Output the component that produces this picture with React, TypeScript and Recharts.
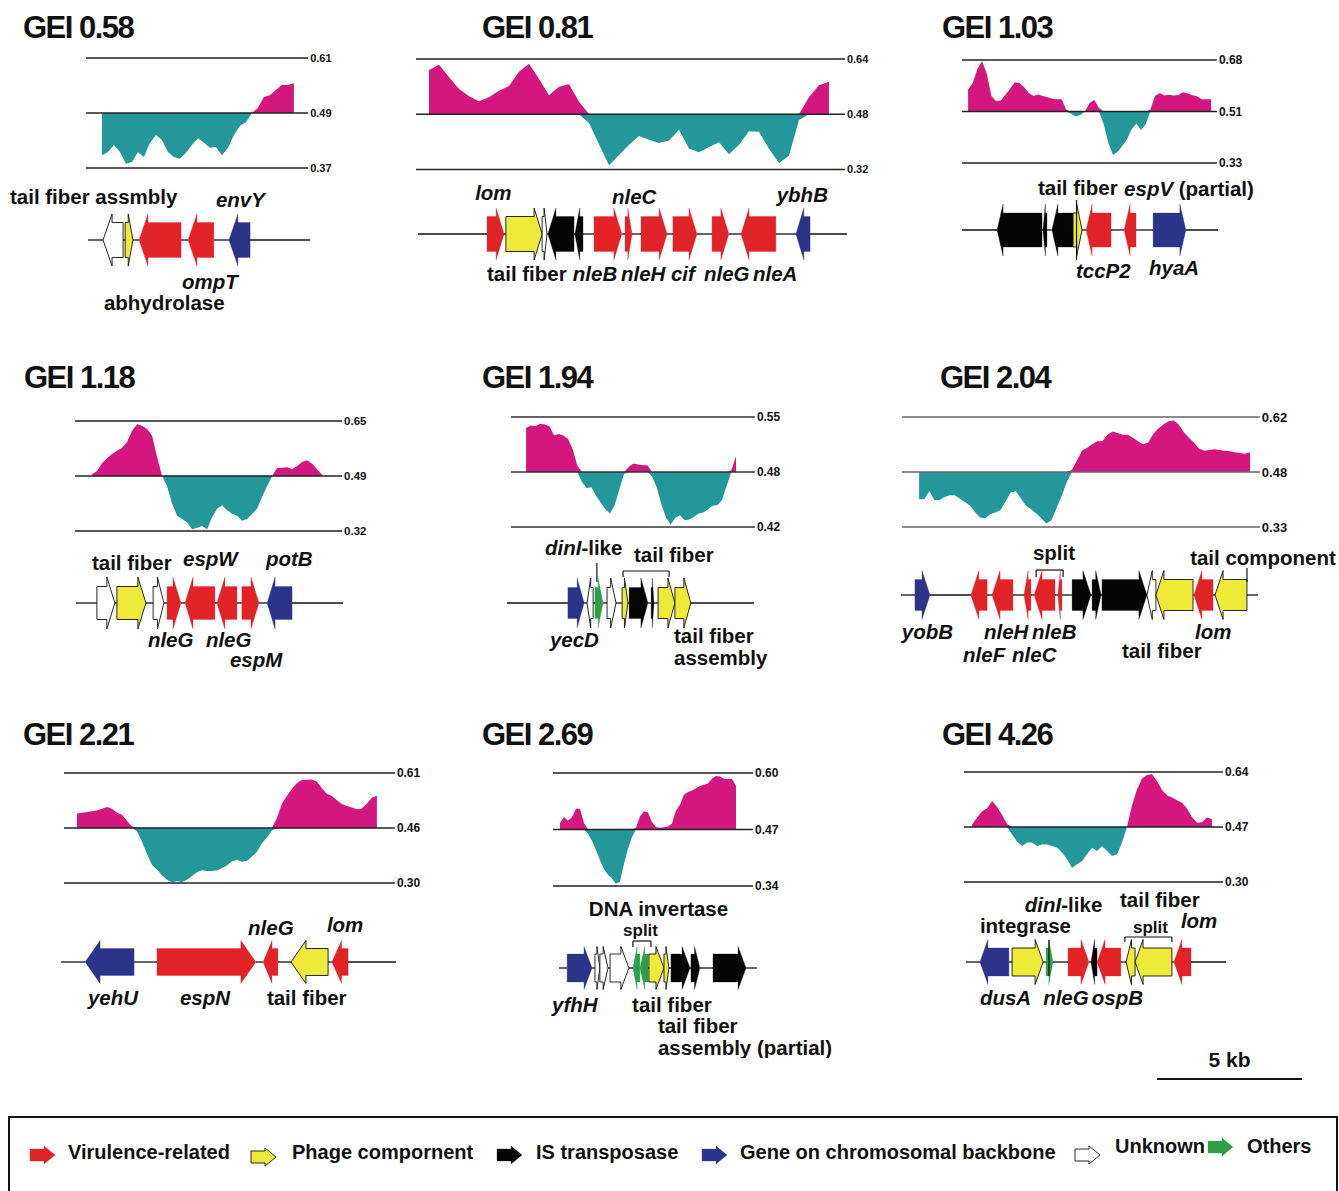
import React from 'react';
import { AreaChart, Area, XAxis, YAxis, ReferenceLine, ComposedChart, ReferenceArea, ReferenceDot } from 'recharts';

const FONT = '"Liberation Sans", Arial, Helvetica, sans-serif';
const PX_PER_KB = 29;
const PINK = '#D3177E';
const TEAL = '#23979A';
const GENE_COLORS: Record<string, string> = {
  vir: '#E12328', phage: '#EEEA3A', is: '#050505', backbone: '#2C3388', unknown: '#FFFFFF', other: '#2E9F48',
};

// ---------------- GC content profiles (GC fraction, evenly spaced over the window) ----------------
const gei058Gc = [0.398,0.405,0.420,0.405,0.379,0.383,0.405,0.394,0.425,0.442,0.431,0.405,0.394,0.390,0.403,0.420,0.435,0.425,0.414,0.416,0.398,0.414,0.442,0.462,0.470,0.490,0.501,0.525,0.529,0.540,0.551,0.551,0.555];
const gei081Gc = [0.608,0.623,0.587,0.553,0.532,0.518,0.529,0.548,0.562,0.603,0.626,0.582,0.535,0.560,0.567,0.516,0.455,0.393,0.332,0.362,0.392,0.417,0.406,0.397,0.404,0.435,0.381,0.370,0.385,0.399,0.364,0.392,0.431,0.429,0.380,0.339,0.360,0.463,0.529,0.564,0.574];
const gei103Gc = [0.580,0.602,0.650,0.677,0.633,0.558,0.540,0.542,0.562,0.582,0.604,0.602,0.587,0.568,0.558,0.563,0.558,0.553,0.548,0.547,0.547,0.511,0.498,0.488,0.493,0.504,0.534,0.544,0.517,0.463,0.399,0.357,0.368,0.388,0.411,0.445,0.464,0.442,0.462,0.511,0.558,0.568,0.559,0.562,0.559,0.561,0.570,0.566,0.560,0.557,0.547,0.547,0.547];
const gei118Gc = [0.490,0.500,0.524,0.538,0.551,0.561,0.570,0.587,0.621,0.640,0.636,0.626,0.606,0.541,0.485,0.454,0.402,0.366,0.356,0.346,0.325,0.330,0.335,0.325,0.361,0.387,0.397,0.382,0.372,0.366,0.351,0.356,0.372,0.387,0.423,0.454,0.485,0.509,0.510,0.511,0.506,0.514,0.527,0.532,0.522,0.505,0.489];
const gei194Gc = [0.537,0.540,0.539,0.542,0.541,0.539,0.528,0.530,0.528,0.524,0.512,0.492,0.473,0.466,0.467,0.457,0.449,0.441,0.436,0.446,0.465,0.483,0.491,0.495,0.494,0.493,0.493,0.480,0.467,0.447,0.431,0.423,0.431,0.434,0.428,0.429,0.432,0.436,0.437,0.441,0.445,0.446,0.452,0.469,0.487,0.504];
const gei204Gc = [0.403,0.403,0.425,0.401,0.401,0.409,0.414,0.414,0.405,0.396,0.387,0.369,0.355,0.353,0.364,0.368,0.375,0.398,0.421,0.424,0.405,0.386,0.377,0.366,0.353,0.339,0.348,0.380,0.412,0.448,0.480,0.505,0.531,0.539,0.548,0.556,0.556,0.573,0.582,0.578,0.573,0.573,0.565,0.556,0.548,0.552,0.575,0.590,0.600,0.609,0.611,0.600,0.580,0.565,0.552,0.537,0.531,0.533,0.535,0.533,0.531,0.530,0.527,0.525,0.523,0.527];
const gei221Gc = [0.496,0.498,0.500,0.502,0.504,0.509,0.514,0.509,0.498,0.492,0.475,0.459,0.446,0.416,0.382,0.351,0.337,0.322,0.309,0.302,0.305,0.303,0.309,0.320,0.330,0.336,0.334,0.334,0.335,0.342,0.349,0.361,0.365,0.360,0.362,0.375,0.388,0.412,0.428,0.448,0.483,0.523,0.546,0.565,0.582,0.590,0.591,0.592,0.585,0.567,0.551,0.545,0.533,0.522,0.517,0.513,0.508,0.510,0.524,0.540,0.546];
const gei269Gc = [0.485,0.499,0.490,0.498,0.518,0.518,0.485,0.460,0.444,0.423,0.399,0.379,0.366,0.357,0.345,0.350,0.391,0.425,0.453,0.474,0.500,0.512,0.509,0.487,0.476,0.474,0.475,0.477,0.484,0.513,0.527,0.550,0.556,0.560,0.565,0.570,0.573,0.576,0.587,0.593,0.592,0.587,0.587,0.586,0.570];
const gei426Gc = [0.478,0.499,0.519,0.528,0.550,0.532,0.507,0.479,0.447,0.425,0.411,0.422,0.422,0.411,0.416,0.416,0.411,0.406,0.391,0.370,0.344,0.355,0.365,0.386,0.406,0.396,0.411,0.396,0.380,0.386,0.422,0.470,0.537,0.586,0.620,0.631,0.633,0.612,0.584,0.568,0.561,0.553,0.545,0.527,0.501,0.483,0.485,0.499,0.495];

// window: [profile start kb, profile end kb, window length kb]
const gei058Window = [0.55, 7.17, 7.66];
const gei081Window = [0.45, 14.24, 14.79];
const gei103Window = [0.21, 8.59, 8.79];
const gei118Window = [0.59, 8.52, 9.21];
const gei194Window = [0.52, 7.76, 8.41];
const gei204Window = [0.59, 12.0, 12.34];
const gei221Window = [0.45, 10.79, 11.41];
const gei269Window = [0.24, 6.31, 6.9];
const gei426Window = [0.28, 8.55, 8.93];

// tick labels: [top, middle, bottom]
const gei058Ticks = ['0.61', '0.49', '0.37'];
const gei081Ticks = ['0.64', '0.48', '0.32'];
const gei103Ticks = ['0.68', '0.51', '0.33'];
const gei118Ticks = ['0.65', '0.49', '0.32'];
const gei194Ticks = ['0.55', '0.48', '0.42'];
const gei204Ticks = ['0.62', '0.48', '0.33'];
const gei221Ticks = ['0.61', '0.46', '0.30'];
const gei269Ticks = ['0.60', '0.47', '0.34'];
const gei426Ticks = ['0.64', '0.47', '0.30'];

// ---------------- gene maps: [start kb, end kb, strand, category] ----------------
const gei058MapLen = 7.66;
const gei058Genes = [[0.52,1.21,-1,'unknown'],[1.28,1.55,1,'phage'],[1.76,3.21,-1,'vir'],[3.45,4.34,-1,'vir'],[4.86,5.59,-1,'backbone']];
const gei081MapLen = 14.79;
const gei081Genes = [[2.38,2.97,1,'vir'],[3.03,4.28,1,'phage'],[4.28,4.45,1,'unknown'],[4.48,5.38,-1,'is'],[5.41,5.69,-1,'is'],[6.07,7.03,1,'vir'],[7.14,7.38,1,'vir'],[7.69,8.59,1,'vir'],[8.79,9.62,1,'vir'],[10.14,10.72,1,'vir'],[11.14,12.34,-1,'vir'],[13.03,13.52,-1,'backbone']];
const gei103MapLen = 8.83;
const gei103Genes = [[1.21,2.76,-1,'is'],[2.79,2.93,-1,'is'],[3.10,3.83,-1,'is'],[3.83,4.14,1,'phage'],[4.28,5.14,-1,'vir'],[5.59,6.0,-1,'vir'],[6.59,7.72,1,'backbone']];
const gei118MapLen = 9.21;
const gei118Genes = [[0.72,1.34,1,'unknown'],[1.41,2.41,1,'phage'],[2.66,3.03,1,'unknown'],[3.14,3.62,1,'vir'],[3.76,4.79,-1,'vir'],[4.86,5.55,-1,'vir'],[5.72,6.31,1,'vir'],[6.59,7.45,-1,'backbone']];
const gei194MapLen = 8.52;
const gei194Genes = [[2.10,2.66,1,'backbone'],[2.76,2.97,-1,'unknown'],[3.03,3.31,1,'other'],[3.45,3.76,1,'unknown'],[3.97,4.17,1,'phage'],[4.21,4.86,1,'is'],[4.97,5.07,1,'is'],[5.21,5.79,1,'phage'],[5.79,6.34,1,'phage']];
const gei204MapLen = 12.31;
const gei204Genes = [[0.48,1.0,1,'backbone'],[2.41,2.97,-1,'vir'],[3.14,3.86,-1,'vir'],[4.24,4.48,-1,'vir'],[4.59,5.31,-1,'vir'],[5.41,5.55,-1,'vir'],[5.90,6.55,1,'is'],[6.59,6.90,1,'is'],[6.93,8.48,1,'is'],[8.48,8.79,-1,'unknown'],[8.79,10.07,-1,'phage'],[10.10,10.76,-1,'vir'],[10.83,11.93,-1,'phage']];
const gei221MapLen = 11.55;
const gei221Genes = [[0.83,2.52,-1,'backbone'],[3.31,6.72,1,'vir'],[6.97,7.48,-1,'vir'],[7.93,9.21,-1,'phage'],[9.34,9.90,-1,'vir']];
const gei269MapLen = 6.83;
const gei269Genes = [[0.28,1.14,1,'backbone'],[1.24,1.41,1,'unknown'],[1.41,1.69,1,'unknown'],[1.76,2.41,1,'unknown'],[2.55,2.79,-1,'other'],[2.79,3.07,-1,'other'],[3.10,3.62,1,'phage'],[3.62,3.79,1,'phage'],[3.86,4.52,1,'is'],[4.55,4.86,1,'is'],[5.31,6.45,1,'is']];
const gei426MapLen = 8.97;
const gei426Genes = [[0.48,1.48,-1,'backbone'],[1.59,2.66,1,'phage'],[2.76,3.0,1,'other'],[3.52,4.24,1,'vir'],[4.31,4.52,-1,'is'],[4.52,5.34,-1,'vir'],[5.52,5.83,-1,'phage'],[5.83,7.10,-1,'phage'],[7.17,7.76,-1,'vir']];

// ---------------- annotation layout (text with *italic* parts, kb, px above line, [font size]) ----------------
const gei058Labels = [['tail fiber assmbly',-2.69,43],['*envY*',4.41,40],['*ompT*',3.24,-42],['abhydrolase',0.55,-63]];
const gei081Labels = [['*lom*',1.97,41],['*nleC*',6.69,37],['*ybhB*',12.37,39],['tail fiber',2.38,-40],['*nleB*',5.34,-40],['*nleH*',7.0,-40],['*cif*',8.72,-40],['*nleG*',9.86,-40],['*nleA*',11.55,-40]];
const gei103Labels = [['tail fiber',2.62,42],['*espV* (partial)',5.59,41],['*tccP2*',3.93,-41],['*hyaA*',6.45,-38]];
const gei118Labels = [['tail fiber',0.55,40],['*espW*',3.69,44],['*potB*',6.55,44],['*nleG*',2.48,-37],['*nleG*',4.48,-37],['*espM*',5.31,-57]];
const gei194Labels = [['*dinI*-like',1.31,55],['tail fiber',4.38,48],['*yecD*',1.48,-37],['tail fiber',5.76,-33],['assembly',5.76,-55]];
const gei204Labels = [['split',4.55,42],['tail component',9.97,37],['*yobB*',0.03,-37],['*nleH*',2.86,-37],['*nleB*',4.52,-37],['*nleF*',2.14,-60],['*nleC*',3.83,-60],['*lom*',10.14,-37],['tail fiber',7.62,-56]];
const gei221Labels = [['*nleG*',6.45,34],['*lom*',9.17,37],['*yehU*',0.93,-36],['*espN*',4.10,-36],['tail fiber',7.10,-36]];
const gei269Labels = [['DNA invertase',1.03,59],['split',2.21,38,17],['*yfhH*',-0.24,-37],['tail fiber',2.52,-37],['tail fiber',3.41,-58],['assembly (partial)',3.41,-80]];
const gei426Labels = [['*dinI*-like',2.03,57],['integrase',0.48,36],['tail fiber',5.31,62],['split',5.76,35,17],['*lom*',7.41,41],['*dusA*',0.48,-36],['*nleG*',2.66,-36],['*ospB*',4.34,-36]];

const gei058Marks: any[] = [];
const gei081Marks: any[] = [];
const gei103Marks = [['leader',3.95,30,-30]];
const gei118Marks: any[] = [];
const gei194Marks = [['leader',3.10,40,21],['bracket',4.0,5.59,32,6]];
const gei204Marks = [['bracket',4.66,5.59,25,7],['leader',11.93,27,13]];
const gei221Marks: any[] = [];
const gei269Marks = [['bracket',2.55,3.17,27,6]];
const gei426Marks = [['bracket',5.48,7.10,25,5],['leader',2.86,22,-14]];

const PANELS = [
  { title: 'GEI 0.58', gc: gei058Gc, win: gei058Window, ticks: gei058Ticks, mapLen: gei058MapLen, genes: gei058Genes, labels: gei058Labels, marks: gei058Marks },
  { title: 'GEI 0.81', gc: gei081Gc, win: gei081Window, ticks: gei081Ticks, mapLen: gei081MapLen, genes: gei081Genes, labels: gei081Labels, marks: gei081Marks },
  { title: 'GEI 1.03', gc: gei103Gc, win: gei103Window, ticks: gei103Ticks, mapLen: gei103MapLen, genes: gei103Genes, labels: gei103Labels, marks: gei103Marks },
  { title: 'GEI 1.18', gc: gei118Gc, win: gei118Window, ticks: gei118Ticks, mapLen: gei118MapLen, genes: gei118Genes, labels: gei118Labels, marks: gei118Marks },
  { title: 'GEI 1.94', gc: gei194Gc, win: gei194Window, ticks: gei194Ticks, mapLen: gei194MapLen, genes: gei194Genes, labels: gei194Labels, marks: gei194Marks },
  { title: 'GEI 2.04', gc: gei204Gc, win: gei204Window, ticks: gei204Ticks, mapLen: gei204MapLen, genes: gei204Genes, labels: gei204Labels, marks: gei204Marks },
  { title: 'GEI 2.21', gc: gei221Gc, win: gei221Window, ticks: gei221Ticks, mapLen: gei221MapLen, genes: gei221Genes, labels: gei221Labels, marks: gei221Marks },
  { title: 'GEI 2.69', gc: gei269Gc, win: gei269Window, ticks: gei269Ticks, mapLen: gei269MapLen, genes: gei269Genes, labels: gei269Labels, marks: gei269Marks },
  { title: 'GEI 4.26', gc: gei426Gc, win: gei426Window, ticks: gei426Ticks, mapLen: gei426MapLen, genes: gei426Genes, labels: gei426Labels, marks: gei426Marks },
];

const LAYOUT = [
  { titleX: 23, titleY: 38, gcLeft: 86, gcTop: 58, gcBottom: 168, tickFont: 11, lineColor: '#222', mapOrigin: 88, mapY: 240, bodyH: 35, headH: 52, headL: 9 },
  { titleX: 482, titleY: 38, gcLeft: 416, gcTop: 58.5, gcBottom: 169, tickFont: 11, lineColor: '#222', mapOrigin: 418, mapY: 234, bodyH: 35, headH: 52, headL: 8 },
  { titleX: 942, titleY: 38, gcLeft: 962, gcTop: 60, gcBottom: 163, tickFont: 12, lineColor: '#222', mapOrigin: 962, mapY: 230, bodyH: 34, headH: 52, headL: 6 },
  { titleX: 24, titleY: 388, gcLeft: 75, gcTop: 421, gcBottom: 531, tickFont: 11.5, lineColor: '#222', mapOrigin: 76, mapY: 603, bodyH: 33, headH: 52, headL: 8 },
  { titleX: 482, titleY: 388, gcLeft: 511, gcTop: 417, gcBottom: 527, tickFont: 12, lineColor: '#333', mapOrigin: 507, mapY: 603, bodyH: 31, headH: 50, headL: 7 },
  { titleX: 940, titleY: 388, gcLeft: 902, gcTop: 417, gcBottom: 527, tickFont: 13, lineColor: '#666', mapOrigin: 901, mapY: 595, bodyH: 31, headH: 49, headL: 8 },
  { titleX: 23, titleY: 745, gcLeft: 64, gcTop: 773, gcBottom: 883, tickFont: 12, lineColor: '#222', mapOrigin: 61, mapY: 962, bodyH: 27, headH: 43, headL: 15 },
  { titleX: 482, titleY: 745, gcLeft: 553, gcTop: 773, gcBottom: 886, tickFont: 12, lineColor: '#222', mapOrigin: 559, mapY: 968, bodyH: 28, headH: 43, headL: 8 },
  { titleX: 942, titleY: 745, gcLeft: 964, gcTop: 772, gcBottom: 882, tickFont: 12, lineColor: '#222', mapOrigin: 966, mapY: 962, bodyH: 28, headH: 45, headL: 8 },
];

const LEGEND_ITEMS = [
  ['vir', 'Virulence-related'], ['phage', 'Phage compornent'], ['is', 'IS transposase'],
  ['backbone', 'Gene on chromosomal backbone'], ['unknown', 'Unknown'], ['other', 'Others'],
];
const LEGEND_LAYOUT = [[30, 1155, 68, 1152], [251, 1157, 292, 1152], [497, 1155, 536, 1152], [702, 1155, 740, 1152], [1075, 1155, 1115, 1146], [1208, 1147, 1247, 1146]];

// ---------------- drawing helpers ----------------
function arrowPoints(x: number, y: number, w: number, h: number, bodyH: number, headL: number, strand: number) {
  const cy = y + h / 2;
  const hl = Math.min(headL, w * 0.6);
  const bt = cy - bodyH / 2, bb = cy + bodyH / 2, ht = y, hb = y + h;
  if (strand > 0) {
    const xb = x + w - hl;
    return `${x},${bt} ${xb},${bt} ${xb},${ht} ${x + w},${cy} ${xb},${hb} ${xb},${bb} ${x},${bb}`;
  }
  const xb = x + hl;
  return `${x + w},${bt} ${xb},${bt} ${xb},${ht} ${x},${cy} ${xb},${hb} ${xb},${bb} ${x + w},${bb}`;
}

function GeneArrow({ x, y, width, height, strand, kind, bodyH, headL }: any) {
  const outlined = kind === 'phage' || kind === 'unknown';
  const fill = GENE_COLORS[kind];
  return (
    <polygon
      points={arrowPoints(x, y, width, height, bodyH, headL, strand)}
      fill={fill}
      stroke={outlined ? '#111' : fill}
      strokeWidth={outlined ? 0.9 : 0.3}
    />
  );
}

function RichText({ x, y, text, size, anchor }: any) {
  const parts = String(text).split('*');
  return (
    <text x={x} y={y} dy="0.36em" fontSize={size} fontWeight={700} fontFamily={FONT} fill="#111" textAnchor={anchor || 'start'} style={{ whiteSpace: 'pre' }}>
      {parts.map((t, i) => (t ? <tspan key={i} fontStyle={i % 2 ? 'italic' : 'normal'}>{t}</tspan> : null))}
    </text>
  );
}

function GcPlot({ p, l }: any) {
  const [s, e, len] = p.win;
  const n = p.gc.length;
  const top = parseFloat(p.ticks[0]);
  const bot = parseFloat(p.ticks[2]);
  const base = (top + bot) / 2;
  const data = p.gc.map((v: number, i: number) => ({ x: s + ((e - s) * i) / (n - 1), gc: v }));
  const plotW = len * PX_PER_KB;
  const plotH = l.gcBottom - l.gcTop;
  const M = 8;
  const tickVals = [bot, base, top];
  const fmt = (v: number) => {
    let best = 0;
    tickVals.forEach((t, i) => { if (Math.abs(t - v) < Math.abs(tickVals[best] - v)) best = i; });
    return [p.ticks[2], p.ticks[1], p.ticks[0]][best];
  };
  return (
    <div style={{ position: 'absolute', left: l.gcLeft, top: l.gcTop - M }}>
      <AreaChart width={plotW + 40} height={plotH + 2 * M} data={data} margin={{ top: M, right: 0, bottom: M, left: 0 }}>
        <XAxis type="number" dataKey="x" domain={[0, len]} hide allowDataOverflow />
        <YAxis
          orientation="right" type="number" domain={[bot, top]} ticks={tickVals} interval={0} width={40}
          axisLine={false} tickLine={false} tickSize={0} tickMargin={2} allowDataOverflow
          tickFormatter={fmt}
          tick={{ fontSize: l.tickFont, fontWeight: 700, fill: '#111', fontFamily: FONT }}
        />
        <Area dataKey={(d: any) => [base, Math.max(d.gc, base)]} type="linear" stroke="none" fill={PINK} fillOpacity={1} isAnimationActive={false} />
        <Area dataKey={(d: any) => [Math.min(d.gc, base), base]} type="linear" stroke="none" fill={TEAL} fillOpacity={1} isAnimationActive={false} />
        <ReferenceLine y={top} stroke={l.lineColor} strokeWidth={1.4} />
        <ReferenceLine y={base} stroke={l.lineColor} strokeWidth={1.4} />
        <ReferenceLine y={bot} stroke={l.lineColor} strokeWidth={1.4} />
      </AreaChart>
    </div>
  );
}

const PADL = 95;
const PADR = 105;
const MAPH = 180;

function backboneGaps(genes: any[], len: number) {
  const iv = genes.map((g) => [g[0], g[1]]).sort((a, b) => a[0] - b[0]);
  const out: number[][] = [];
  let cur = 0;
  for (const [s, e] of iv) {
    if (s > cur) out.push([cur, s]);
    cur = Math.max(cur, e);
  }
  if (cur < len) out.push([cur, len]);
  return out;
}

function GeneMap({ p, l }: any) {
  const len = p.mapLen;
  const lo = -PADL / PX_PER_KB;
  const hi = (len * PX_PER_KB + PADR) / PX_PER_KB;
  const W = len * PX_PER_KB + PADL + PADR;
  const gaps = backboneGaps(p.genes, len);
  const segs: any[] = [];
  p.marks.forEach((m: any) => {
    if (m[0] === 'leader') segs.push([[m[1], m[2]], [m[1], m[3]]]);
    else {
      segs.push([[m[1], m[3]], [m[2], m[3]]]);
      segs.push([[m[1], m[3]], [m[1], m[3] - m[4]]]);
      segs.push([[m[2], m[3]], [m[2], m[3] - m[4]]]);
    }
  });
  return (
    <div style={{ position: 'absolute', left: l.mapOrigin - PADL, top: l.mapY - MAPH / 2 }}>
      <ComposedChart width={W} height={MAPH} data={[{ x: 0 }, { x: len }]} margin={{ top: 0, right: 0, bottom: 0, left: 0 }}>
        <XAxis type="number" dataKey="x" domain={[lo, hi]} hide allowDataOverflow />
        <YAxis type="number" domain={[-MAPH / 2, MAPH / 2]} hide allowDataOverflow />
        {gaps.map((g, i) => (
          <ReferenceLine key={'b' + i} segment={[{ x: g[0], y: 0 }, { x: g[1], y: 0 }]} stroke="#111" strokeWidth={1.3} ifOverflow="visible" />
        ))}
        {segs.map((s, i) => (
          <ReferenceLine key={'m' + i} segment={[{ x: s[0][0], y: s[0][1] }, { x: s[1][0], y: s[1][1] }]} stroke="#111" strokeWidth={1.2} ifOverflow="visible" />
        ))}
        {p.genes.map((g: any, i: number) => (
          <ReferenceArea
            key={'g' + i}
            x1={g[0]} x2={g[1]} y1={-l.headH / 2} y2={l.headH / 2}
            ifOverflow="visible"
            shape={(props: any) => (
              <GeneArrow x={props.x} y={props.y} width={props.width} height={props.height} strand={g[2]} kind={g[3]} bodyH={l.bodyH} headL={l.headL} />
            )}
          />
        ))}
        {p.labels.map((lb: any, i: number) => (
          <ReferenceDot
            key={'t' + i}
            x={lb[1]} y={lb[2]} r={0}
            ifOverflow="visible"
            shape={(props: any) => <RichText x={props.cx} y={props.cy} text={lb[0]} size={lb[3] || 20.5} />}
          />
        ))}
      </ComposedChart>
    </div>
  );
}

export default function App() {
  return (
    <div style={{ position: 'absolute', left: 0, top: 0, width: 1339, height: 1191, overflow: 'hidden', background: '#fff' }}>
      {PANELS.map((p, i) => (
        <React.Fragment key={i}>
          <GcPlot p={p} l={LAYOUT[i]} />
          <GeneMap p={p} l={LAYOUT[i]} />
        </React.Fragment>
      ))}
      <svg width={1339} height={1191} style={{ position: 'absolute', left: 0, top: 0, pointerEvents: 'none' }}>
        {PANELS.map((p, i) => (
          <text key={i} x={LAYOUT[i].titleX} y={LAYOUT[i].titleY} fontSize={31} fontWeight={700} fontFamily={FONT} letterSpacing={-1.5} fill="#111">
            {p.title}
          </text>
        ))}
        {/* scale bar: 5 kb */}
        <line x1={1157} x2={1157 + 5 * PX_PER_KB} y1={1079} y2={1079} stroke="#111" strokeWidth={2} />
        <text x={1157 + 2.5 * PX_PER_KB} y={1059} dy="0.36em" textAnchor="middle" fontSize={21} fontWeight={700} fontFamily={FONT} fill="#111">5 kb</text>
        {/* legend */}
        <path d="M9,1195 L9,1117 L1337,1117 L1337,1195" fill="none" stroke="#111" strokeWidth={2} />
        {LEGEND_ITEMS.map((it, i) => {
          const [ax, ay, tx, ty] = LEGEND_LAYOUT[i];
          return (
            <g key={i}>
              <GeneArrow x={ax} y={ay - 9} width={25} height={18} strand={1} kind={it[0]} bodyH={12} headL={11} />
              <RichText x={tx} y={ty} text={it[1]} size={20} />
            </g>
          );
        })}
      </svg>
    </div>
  );
}
